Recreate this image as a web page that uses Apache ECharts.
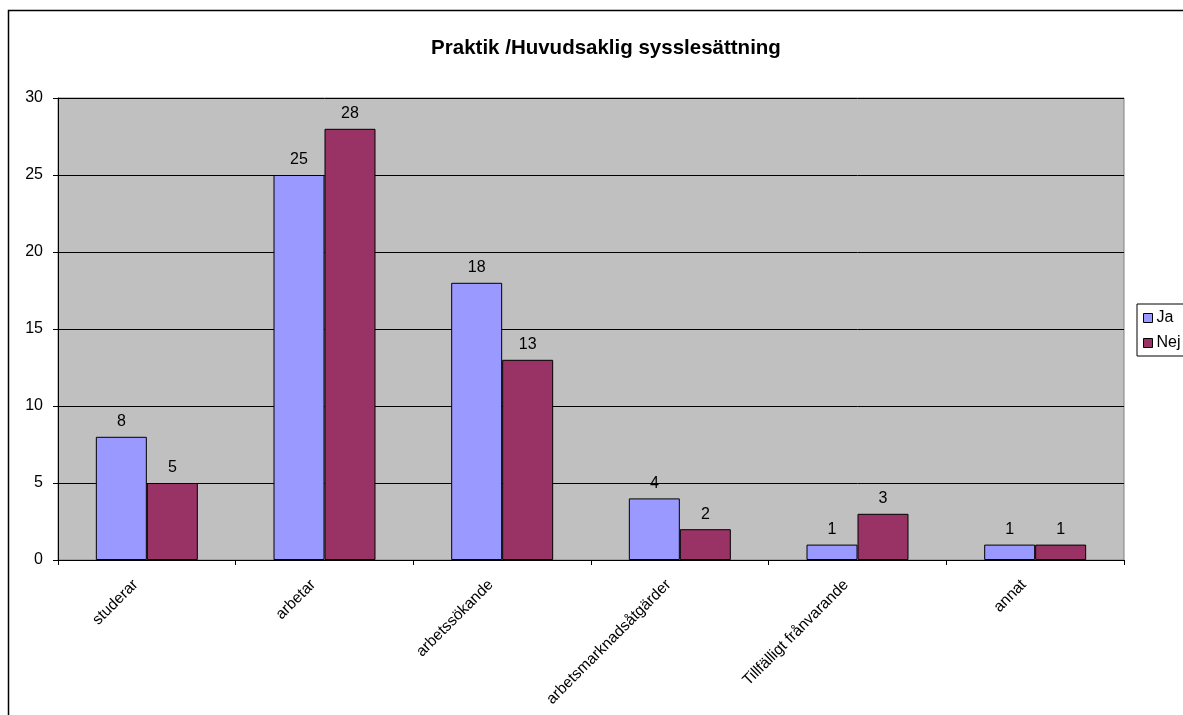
<!DOCTYPE html>
<html><head><meta charset="utf-8">
<script src="https://cdn.jsdelivr.net/npm/echarts@6/dist/echarts.min.js"></script>
<style>html,body{margin:0;padding:0;background:#fff}#c{width:1183px;height:715px}</style>
</head><body><div id="c"></div>
<script>
var categories = ['studerar','arbetar','arbetssökande','arbetsmarknadsåtgärder','Tillfälligt frånvarande','annat'];
var jaValues = [8,25,18,4,1,1];
var nejValues = [5,28,13,2,3,1];
var seriesNames = ['Ja','Nej'];
var chart = echarts.init(document.getElementById('c'));
var font = 'Liberation Sans, Arial, sans-serif';
var lbl = {show:true, position:'top', color:'#000', fontFamily:font, fontSize:16, distance:7};
chart.setOption({
  animation:false,
  backgroundColor:'#fff',
  graphic:[{type:'rect', shape:{x:8.5,y:10.5,width:1200,height:720}, style:{fill:'none', stroke:'#000', lineWidth:1.5}, z:-1}],
  title:{text:'Praktik /Huvudsaklig sysslesättning', left:601, top:33, textAlign:'center',
    textStyle:{fontFamily:font, fontSize:20.5, fontWeight:'bold', color:'#000'}},
  legend:{orient:'vertical', left:1137, top:304, itemWidth:9, itemHeight:9, itemGap:9,
    borderColor:'#000', borderWidth:1, padding:[6,30,5,6], backgroundColor:'#fff',
    icon:'rect', textStyle:{fontFamily:font, fontSize:16, color:'#000', padding:[0,0,0,-1]},
    itemStyle:{borderColor:'#000', borderWidth:1},
    data:seriesNames},
  grid:{left:58, right:59, top:98, bottom:155, show:true, backgroundColor:'#c0c0c0', borderColor:'#808080', borderWidth:1},
  xAxis:{type:'category', data:categories,
    axisLine:{lineStyle:{color:'#000', width:1}},
    axisTick:{show:true, length:5, lineStyle:{color:'#000'}},
    axisLabel:{rotate:45, interval:0, color:'#000', fontFamily:font, fontSize:15.5, margin:11, padding:[0,16,0,0]}},
  yAxis:{type:'value', min:0, max:30, interval:5,
    axisLine:{show:true, lineStyle:{color:'#000'}},
    axisTick:{show:true, length:5, lineStyle:{color:'#000'}},
    axisLabel:{color:'#000', fontFamily:font, fontSize:16, margin:15},
    splitLine:{lineStyle:{color:'#000', width:1}}},
  series:[
    {name:'Ja', type:'bar', data:jaValues, barWidth:'28.7%', barGap:'0%',
      itemStyle:{color:'#9999ff', borderColor:'#000', borderWidth:1}, label:lbl},
    {name:'Nej', type:'bar', data:nejValues, barWidth:'28.7%',
      itemStyle:{color:'#993366', borderColor:'#000', borderWidth:1}, label:lbl}
  ]
});
</script></body></html>
